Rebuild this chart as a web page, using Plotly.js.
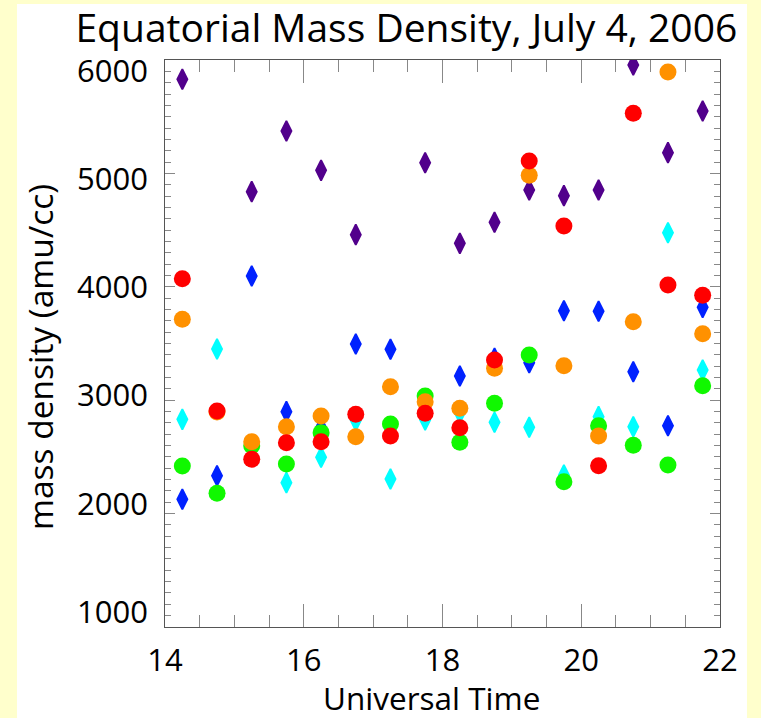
<!DOCTYPE html>
<html><head><meta charset="utf-8">
<script src="https://cdn.plot.ly/plotly-3.0.1.min.js"></script>
<style>html,body{margin:0;padding:0;background:#FFFFCC;} #chart{width:761px;height:718px;}</style>
</head><body><div id="chart"></div>
<script>
const universalTime = [14.25,14.75,15.25,15.75,16.25,16.75,17.25,17.75,18.25,18.75,19.25,19.75,20.25,20.75,21.25,21.75];
const purpleSeries = [5830,null,4839,5374,5027,4460,null,5094,4383,4569,4854,4804,4854,5956,5183,5550];
const blueSeries   = [2126,2334,4095,2899,2760,3496,3449,null,3213,3370,3330,3789,3784,3251,2775,3819];
const cyanSeries   = [2831,3452,null,2273,2497,2820,2305,2825,2887,2805,2761,2340,2855,2766,4477,3266];
const greenSeries  = [2420,2179,2598,2437,2714,null,2790,3037,2629,2973,3399,2281,2775,2602,2429,3128];
const orangeSeries = [3713,2895,2634,2766,2861,2678,3119,2987,2928,3281,4983,3304,2684,3692,5894,3586];
const redSeries    = [4072,2905,2479,2625,2634,2876,2684,2884,2758,3354,5109,4536,2422,5530,4016,3925];
const yTickValues = [1000,2000,3000,4000,5000,6000];
const xTickValues = [14,16,18,20,22];

function diamonds(y, color){
  return {x: universalTime, y: y, type:'scatter', mode:'markers',
    marker:{symbol:'diamond-tall', size:14.5, color:color, line:{width:1.8, color:color}}, hoverinfo:'x+y'};
}
function circles(y, color){
  return {x: universalTime, y: y, type:'scatter', mode:'markers',
    marker:{symbol:'circle', size:17, color:color, line:{width:0}}, hoverinfo:'x+y'};
}
const data = [
  diamonds(purpleSeries, '#52008C'),
  diamonds(blueSeries, '#0022FF'),
  diamonds(cyanSeries, '#00FFFF'),
  circles(greenSeries, '#10F800'),
  circles(orangeSeries, '#FF9100'),
  circles(redSeries, '#FF0000'),
  {x:[], y:[], type:'scatter', mode:'markers', yaxis:'y2', showlegend:false, hoverinfo:'skip'}
];
const font = 'Open Sans, sans-serif';
const layout = {
  width:761, height:718,
  paper_bgcolor:'#FFFFCC', plot_bgcolor:'#FFFFFF',
  margin:{l:165, r:41, t:60, b:91, pad:0},
  showlegend:false,
  font:{family:font, color:'#000000'},
  title:{text:'Equatorial Mass Density, July 4, 2006', font:{family:font, size:39, color:'#000'},
    x:0.534, xanchor:'center', y:0.961, yanchor:'middle'},
  shapes:[{type:'rect', xref:'paper', yref:'paper', x0:-0.2667, x1:1.0486, y0:-0.1605, y1:1.0988,
    fillcolor:'#FFFFFF', line:{width:0}, layer:'below'}],
  annotations:[
    {text:'Universal Time', xref:'paper', yref:'paper', x:0.481, y:-0.125,
     xanchor:'center', yanchor:'middle', showarrow:false, font:{family:font, size:31.5, color:'#000'}},
    {text:'mass density (amu/cc)', xref:'paper', yref:'paper', x:-0.2252, y:0.476, textangle:-90,
     xanchor:'center', yanchor:'middle', showarrow:false, font:{family:font, size:33.5, color:'#000'}}
  ],
  xaxis:{range:[14,22], tickvals:xTickValues, ticktext:xTickValues.map(String),
    ticks:'inside', ticklen:23, tickwidth:1, tickcolor:'#888888',
    showline:true, linecolor:'#555555', linewidth:1, mirror:'ticks',
    showgrid:false, zeroline:false, tickfont:{family:font, size:31},
    ticklabelstandoff:6,
    minor:{dtick:0.5, tick0:14, ticks:'inside', ticklen:12, tickcolor:'#888888', showgrid:false}},
  yaxis:{range:[1000,6000], tickvals:yTickValues, showticklabels:false,
    ticks:'inside', ticklen:10, tickwidth:1, tickcolor:'#888888',
    showline:true, linecolor:'#555555', linewidth:1, mirror:'ticks',
    showgrid:false, zeroline:false,
    minor:{dtick:100, tick0:1000, ticks:'inside', ticklen:6, tickcolor:'#888888', showgrid:false}},
  yaxis2:{overlaying:'y', side:'left', anchor:'x', range:[861.4, 6101.7], tickvals:yTickValues,
    ticktext:yTickValues.map(String), ticks:'', showline:false, showgrid:false, zeroline:false,
    tickfont:{family:font, size:31}, ticklabelstandoff:16}
};
Plotly.newPlot('chart', data, layout, {displayModeBar:false, staticPlot:true});
</script></body></html>
